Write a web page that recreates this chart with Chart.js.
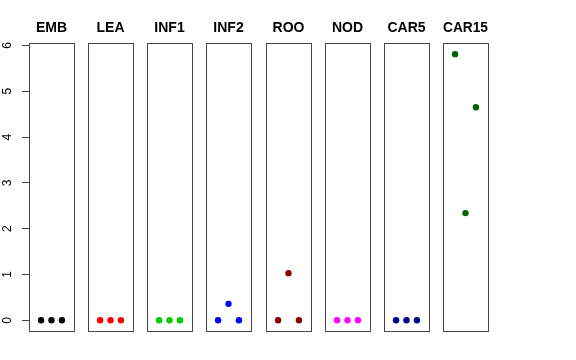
<!DOCTYPE html>
<html>
<head>
<meta charset="utf-8">
<script src="https://cdn.jsdelivr.net/npm/chart.js@4/dist/chart.umd.min.js"></script>
<style>
  html, body { margin: 0; padding: 0; background: #fff; }
  #wrap { position: relative; width: 576px; height: 360px; overflow: hidden; }
  #wrap canvas { position: absolute; top: 0; }
</style>
</head>
<body>
<div id="wrap"></div>
<script>
// tissue panels, three replicates each
const categories = ["EMB", "LEA", "INF1", "INF2", "ROO", "NOD", "CAR5", "CAR15"];
const colors = ["#000000", "#ff0000", "#00cd00", "#0000ff", "#8b0000", "#ff00ff", "#00008b", "#006400"];
const replicates = [1, 2, 3];

const emb = [0, 0, 0];
const lea = [0, 0, 0];
const inf1 = [0, 0, 0];
const inf2 = [0, 0.36, 0];
const roo = [0, 1.03, 0];
const nod = [0, 0, 0];
const car5 = [0, 0, 0];
const car15 = [5.81, 2.34, 4.65];
const seriesValues = [emb, lea, inf1, inf2, roo, nod, car5, car15];

const yTicks = [0, 1, 2, 3, 4, 5, 6];
const yRange = [-0.233, 6.053];
const xRange = [-0.16, 4.16];

// panel boxes in the page
const firstLeft = 29;
const panelStep = 59.14;
const panelWidth = 45;

const boxPlugin = {
  id: "box",
  afterDraw(chart) {
    const a = chart.chartArea;
    const ctx = chart.ctx;
    ctx.save();
    ctx.strokeStyle = "#444";
    ctx.lineWidth = 1;
    ctx.strokeRect(Math.round(a.left) + 0.5, Math.round(a.top) + 0.5,
      Math.round(a.right - a.left), Math.round(a.bottom - a.top));
    ctx.restore();
  }
};

// R style labels that run along the axis
const rotatedTicks = {
  id: "rotatedTicks",
  afterDraw(chart) {
    const scale = chart.scales.y;
    if (!scale || !scale.options.display) return;
    const ctx = chart.ctx;
    ctx.save();
    ctx.fillStyle = "#000";
    ctx.font = "12px 'Liberation Sans', Arial, sans-serif";
    ctx.textAlign = "center";
    ctx.textBaseline = "middle";
    yTicks.forEach(v => {
      const y = scale.getPixelForValue(v);
      ctx.save();
      ctx.translate(8, y);
      ctx.rotate(-Math.PI / 2);
      ctx.fillText(String(v), 0, 0);
      ctx.restore();
    });
    ctx.restore();
  }
};

function makePanel(i) {
  const withAxis = i === 0;
  const left = firstLeft + i * panelStep;
  const padL = withAxis ? 7 : 8;
  const axisW = withAxis ? 22 : 0;
  const canvasLeft = left - padL - axisW;
  const canvasW = padL + axisW + panelWidth + 8;

  const canvas = document.createElement("canvas");
  canvas.width = Math.round(canvasW);
  canvas.height = 360;
  canvas.style.left = Math.round(canvasLeft) + "px";
  canvas.style.width = Math.round(canvasW) + "px";
  canvas.style.height = "360px";
  document.getElementById("wrap").appendChild(canvas);

  const points = replicates.map((r, k) => ({ x: r, y: seriesValues[i][k] }));

  return new Chart(canvas.getContext("2d"), {
    type: "scatter",
    data: {
      datasets: [{
        data: points,
        pointRadius: 3.2,
        pointBackgroundColor: colors[i],
        pointBorderColor: colors[i],
        pointBorderWidth: 0
      }]
    },
    options: {
      responsive: false,
      animation: false,
      devicePixelRatio: 1,
      layout: {
        autoPadding: false,
        padding: { left: padL, right: 8, top: 20.2, bottom: 29 }
      },
      plugins: {
        legend: { display: false },
        tooltip: { enabled: false },
        title: {
          display: true,
          fullSize: false,
          text: categories[i],
          color: "#000",
          font: { family: "'Liberation Sans', Arial, sans-serif", size: 14, weight: "bold", lineHeight: 1.2 },
          padding: { top: 0, bottom: 6 }
        }
      },
      scales: {
        x: {
          type: "linear",
          min: xRange[0],
          max: xRange[1],
          display: false
        },
        y: {
          type: "linear",
          min: yRange[0],
          max: yRange[1],
          display: withAxis,
          afterBuildTicks: scale => { scale.ticks = yTicks.map(v => ({ value: v })); },
          afterFit: scale => { scale.width = axisW; },
          border: { display: false },
          grid: {
            display: true,
            drawOnChartArea: false,
            drawTicks: true,
            tickLength: 7,
            color: "#444",
            lineWidth: 1
          },
          ticks: { display: false }
        }
      }
    },
    plugins: [boxPlugin, rotatedTicks]
  });
}

categories.forEach((_, i) => makePanel(i));
</script>
</body>
</html>
